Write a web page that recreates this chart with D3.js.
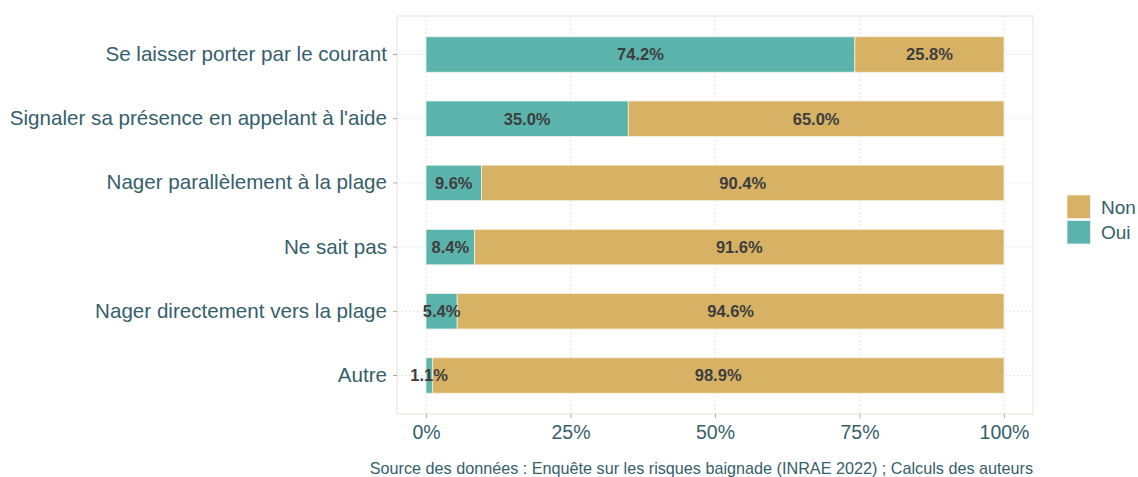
<!DOCTYPE html>
<html>
<head>
<meta charset="utf-8">
<script src="https://cdn.jsdelivr.net/npm/d3@7"></script>
<style>
  body { margin: 0; background: #fff; }
  text { font-family: "Liberation Sans", Arial, sans-serif; }
</style>
</head>
<body>
<div class="chart"></div>
<script>
var categories = [
  "Se laisser porter par le courant",
  "Signaler sa présence en appelant à l'aide",
  "Nager parallèlement à la plage",
  "Ne sait pas",
  "Nager directement vers la plage",
  "Autre"
];
var ouiValues = [74.2, 35.0, 9.6, 8.4, 5.4, 1.1];
var nonValues = [25.8, 65.0, 90.4, 91.6, 94.6, 98.9];
var xTicks = [0, 25, 50, 75, 100];
var legendLabels = ["Non", "Oui"];
var sourceText = "Source des données : Enquête sur les risques baignade (INRAE 2022) ; Calculs des auteurs";

var svgWidth = 1138;
var svgHeight = 477;

var panel = { left: 397, top: 16, right: 1033, bottom: 414 };

var colOui = "#5bb4ab";
var colNon = "#d8b264";
var textCol = "#35606b";

var svg = d3.select(".chart")
  .append("svg")
  .attr("width", svgWidth)
  .attr("height", svgHeight);

// scales
var xScale = d3.scaleLinear()
  .domain([0, 100])
  .range([426, 1004]);

var yScale = d3.scaleBand()
  .domain(categories)
  .range([22.4, 407.6])
  .paddingInner(0.448)
  .paddingOuter(0.224);

// grid
var grid = svg.append("g");
grid.selectAll(".vgrid")
  .data(xTicks)
  .enter()
  .append("line")
  .attr("x1", d => xScale(d))
  .attr("x2", d => xScale(d))
  .attr("y1", panel.top)
  .attr("y2", panel.bottom)
  .attr("stroke", "#e6e6e6")
  .attr("stroke-dasharray", "2,2");

grid.selectAll(".hgrid")
  .data(categories)
  .enter()
  .append("line")
  .attr("x1", panel.left)
  .attr("x2", panel.right)
  .attr("y1", d => yScale(d) + yScale.bandwidth() / 2)
  .attr("y2", d => yScale(d) + yScale.bandwidth() / 2)
  .attr("stroke", "#e6e6e6")
  .attr("stroke-dasharray", "2,2");

// data rows
var rows = categories.map(function(c, i) {
  return { cat: c, oui: ouiValues[i], non: nonValues[i] };
});

// bars
svg.selectAll(".barOui")
  .data(rows)
  .enter()
  .append("rect")
  .attr("x", d => xScale(0))
  .attr("y", d => yScale(d.cat))
  .attr("width", d => xScale(d.oui) - xScale(0))
  .attr("height", yScale.bandwidth())
  .attr("fill", colOui)
  .attr("stroke", "#eef3ee")
  .attr("stroke-width", 0.8);

svg.selectAll(".barNon")
  .data(rows)
  .enter()
  .append("rect")
  .attr("x", d => xScale(d.oui))
  .attr("y", d => yScale(d.cat))
  .attr("width", d => xScale(d.oui + d.non) - xScale(d.oui))
  .attr("height", yScale.bandwidth())
  .attr("fill", colNon)
  .attr("stroke", "#f5efe0")
  .attr("stroke-width", 0.8);

// value labels
svg.selectAll(".lblOui")
  .data(rows)
  .enter()
  .append("text")
  .attr("x", d => xScale(d.oui / 2))
  .attr("y", d => yScale(d.cat) + yScale.bandwidth() / 2)
  .attr("dy", "0.36em")
  .attr("text-anchor", "middle")
  .attr("font-size", "16.5px")
  .attr("font-weight", "bold")
  .attr("fill", "#3d3d3d")
  .text(d => d.oui.toFixed(1) + "%");

svg.selectAll(".lblNon")
  .data(rows)
  .enter()
  .append("text")
  .attr("x", d => xScale(d.oui + d.non / 2))
  .attr("y", d => yScale(d.cat) + yScale.bandwidth() / 2)
  .attr("dy", "0.36em")
  .attr("text-anchor", "middle")
  .attr("font-size", "16.5px")
  .attr("font-weight", "bold")
  .attr("fill", "#3d3d3d")
  .text(d => d.non.toFixed(1) + "%");

// panel border
svg.append("rect")
  .attr("x", panel.left)
  .attr("y", panel.top)
  .attr("width", panel.right - panel.left)
  .attr("height", panel.bottom - panel.top)
  .attr("fill", "none")
  .attr("stroke", "#e9e6df")
  .attr("stroke-width", 1.2);

// axes
var bottomAxis = d3.axisBottom(xScale)
  .tickValues(xTicks)
  .tickFormat(d => d + "%")
  .tickSize(4)
  .tickPadding(7);

var xAxisG = svg.append("g")
  .attr("transform", `translate(0, ${panel.bottom})`)
  .call(bottomAxis);
xAxisG.select(".domain").remove();
xAxisG.selectAll("line").attr("stroke", "#aaaaaa");
xAxisG.selectAll("text")
  .attr("font-size", "19.5px")
  .attr("fill", textCol)
  .attr("font-family", "Liberation Sans, Arial, sans-serif");

var leftAxis = d3.axisLeft(yScale)
  .tickSize(4)
  .tickPadding(6);

var yAxisG = svg.append("g")
  .attr("transform", `translate(${panel.left}, 0)`)
  .call(leftAxis);
yAxisG.select(".domain").remove();
yAxisG.selectAll("line").attr("stroke", "#aaaaaa");
yAxisG.selectAll("text")
  .attr("font-size", "20.6px")
  .attr("fill", textCol)
  .attr("font-family", "Liberation Sans, Arial, sans-serif");

// legend
var legendColors = { "Non": colNon, "Oui": colOui };
var legend = svg.append("g")
  .attr("transform", "translate(1067, 195)");

var items = legend.selectAll(".item")
  .data(legendLabels)
  .enter()
  .append("g")
  .attr("transform", (d, i) => `translate(0, ${i * 25.5})`);

items.append("rect")
  .attr("width", 23.5)
  .attr("height", 23.5)
  .attr("fill", d => legendColors[d])
  .attr("stroke", "#f2f2f2")
  .attr("stroke-width", 0.8);

items.append("text")
  .attr("x", 34)
  .attr("y", 12)
  .attr("dy", "0.36em")
  .attr("font-size", "19px")
  .attr("fill", textCol)
  .text(d => d);

// caption
svg.append("text")
  .attr("x", panel.right)
  .attr("y", 474)
  .attr("text-anchor", "end")
  .attr("font-size", "16.2px")
  .attr("fill", textCol)
  .text(sourceText);
</script>
</body>
</html>
